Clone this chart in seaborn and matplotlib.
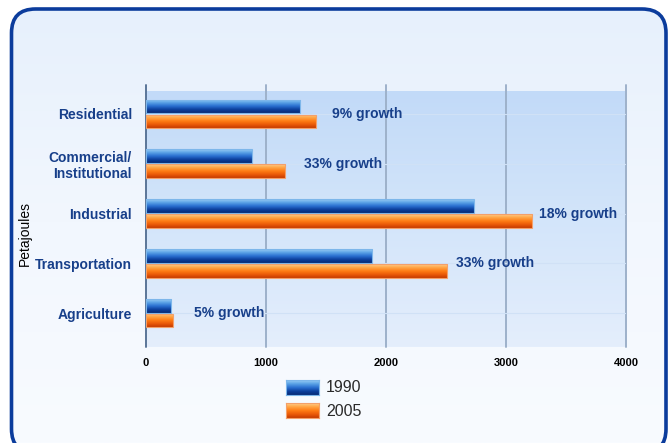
import numpy as np
import pandas as pd
import matplotlib
matplotlib.use("Agg")
import matplotlib.pyplot as plt
import seaborn as sns
from matplotlib.patches import FancyBboxPatch
from matplotlib.colors import LinearSegmentedColormap
from matplotlib.transforms import IdentityTransform

# ---------------- data ----------------
sectors = ["Residential", "Commercial/\nInstitutional", "Industrial", "Transportation", "Agriculture"]
years = ["1990", "2005"]
values_1990 = [1285, 880, 2730, 1885, 210]
values_2005 = [1415, 1160, 3220, 2510, 225]
growth_labels = ["9% growth", "33% growth", "18% growth", "33% growth", "5% growth"]
x_ticks = [0, 1000, 2000, 3000, 4000]
axis_label = "Petajoules"

# layout only: x position (data units) where each growth note starts
note_x = [1550, 1317, 3275, 2583, 400]

sns.set_theme(style="white")
plt.rcParams["font.family"] = ["Liberation Sans", "DejaVu Sans"]

W, H = 670, 443
fig = plt.figure(figsize=(W / 100, H / 100), dpi=100)
fig.patch.set_facecolor("white")

grad = np.linspace(0, 1, 256)[:, None]

# ---------- rounded panel background (figure-fraction coords) ----------
bg = fig.add_axes([0, 0, 1, 1], zorder=-10)
bg.set_axis_off()
bg.set_xlim(0, W)
bg.set_ylim(0, H)
cm_bg = LinearSegmentedColormap.from_list("bg", ["#e6f0fc", "#f2f7fe", "#f8fbff"])
im = bg.imshow(grad, cmap=cm_bg, extent=[0, W, 0, H], aspect="auto")
box = FancyBboxPatch((11.5, -10), 654.5, 444, boxstyle="round,pad=0,rounding_size=24",
                     facecolor="none", edgecolor="#0b3c9c", linewidth=2.6,
                     clip_on=False)
bg.add_patch(box)
im.set_clip_path(box)
bg.set_xlim(0, W)
bg.set_ylim(0, H)

# ---------- main axes ----------
ax = fig.add_axes([146 / W, 1 - 347 / H, 480 / W, 256 / H])
df = pd.DataFrame({
    "sector": sectors * 2,
    "year": [years[0]] * len(sectors) + [years[1]] * len(sectors),
    "value": values_1990 + values_2005,
})
sns.barplot(data=df, y="sector", x="value", hue="year", orient="h",
            palette=["#2a6fd0", "#ff7a10"], width=0.6, gap=0.08,
            ax=ax, legend=False, zorder=3)

cm_ax = LinearSegmentedColormap.from_list("axbg", ["#c2daf8", "#d3e5fa", "#e4eefc"])
ax.imshow(grad, cmap=cm_ax, extent=[0, 1, 0, 1], transform=ax.transAxes,
          aspect="auto", zorder=0)

cm_blue = LinearSegmentedColormap.from_list(
    "b", ["#9ccff5", "#5aa2e6", "#2a6fd0", "#0c3f9c", "#072a74"])
cm_org = LinearSegmentedColormap.from_list(
    "o", ["#ffd08e", "#ffa545", "#ff7c14", "#ea5a08", "#c43a00"])

for p in list(ax.patches):
    w = p.get_width()
    if not np.isfinite(w) or w == 0:
        continue
    x0, y0, h = p.get_x(), p.get_y(), p.get_height()
    fc = p.get_facecolor()
    blue = fc[2] > fc[0]
    img = ax.imshow(grad, cmap=cm_blue if blue else cm_org,
                    extent=[x0, x0 + w, y0 + h, y0], aspect="auto",
                    zorder=3.5, interpolation="bilinear")
    img.set_clip_path(p)
    p.set_facecolor("none")
    p.set_edgecolor("#7db6ea" if blue else "#f3a06a")
    p.set_linewidth(0.8)
    p.set_zorder(4)

# gridlines
for t in x_ticks:
    ax.axvline(t, ymin=0, ymax=1.024, color="#5a7598" if t == 0 else "#9db1ca",
               lw=1.4, clip_on=False, zorder=1)
for i in range(len(sectors)):
    ax.axhline(i, color="#d0e1f6", lw=0.8, zorder=1)

ax.set_xlim(0, 4000)
ax.set_ylim(len(sectors) - 1 + 0.68, -0.46)
ax.set_facecolor("none")
for s in ax.spines.values():
    s.set_visible(False)

ax.set_xticks(x_ticks)
ax.set_xticklabels([str(t) for t in x_ticks])
ax.tick_params(axis="y", length=0, pad=10, labelcolor="#173f8a", labelsize=10)
ax.tick_params(axis="x", length=0, pad=8, labelcolor="black", labelsize=8)
for lbl in ax.get_yticklabels() + ax.get_xticklabels():
    lbl.set_fontweight("bold")
ax.set_xlabel("")
ax.set_ylabel("")

for i, txt in enumerate(growth_labels):
    ax.text(note_x[i], i, txt, va="center", ha="left", fontsize=10,
            fontweight="bold", color="#173f8a", zorder=6)

fig.text(25 / W, 1 - 234 / H, axis_label, rotation=90, ha="center", va="center",
         fontsize=10, color="black")

# ---------- legend ----------
leg_cmaps = [cm_blue, cm_org]
leg_edges = ["#7db6ea", "#f3a06a"]
for j, yr in enumerate(years):
    top = 380 + j * 23
    lax = fig.add_axes([286 / W, 1 - (top + 15) / H, 33 / W, 15 / H])
    lax.imshow(grad, cmap=leg_cmaps[j], extent=[0, 1, 0, 1], aspect="auto")
    lax.set_xticks([])
    lax.set_yticks([])
    for s in lax.spines.values():
        s.set_color(leg_edges[j])
        s.set_linewidth(0.8)
    fig.text(326 / W, 1 - (top + 8) / H, yr, ha="left", va="center",
             fontsize=11.5, color="#2a2a2a")

fig.savefig("out.png", dpi=100, facecolor="white")
